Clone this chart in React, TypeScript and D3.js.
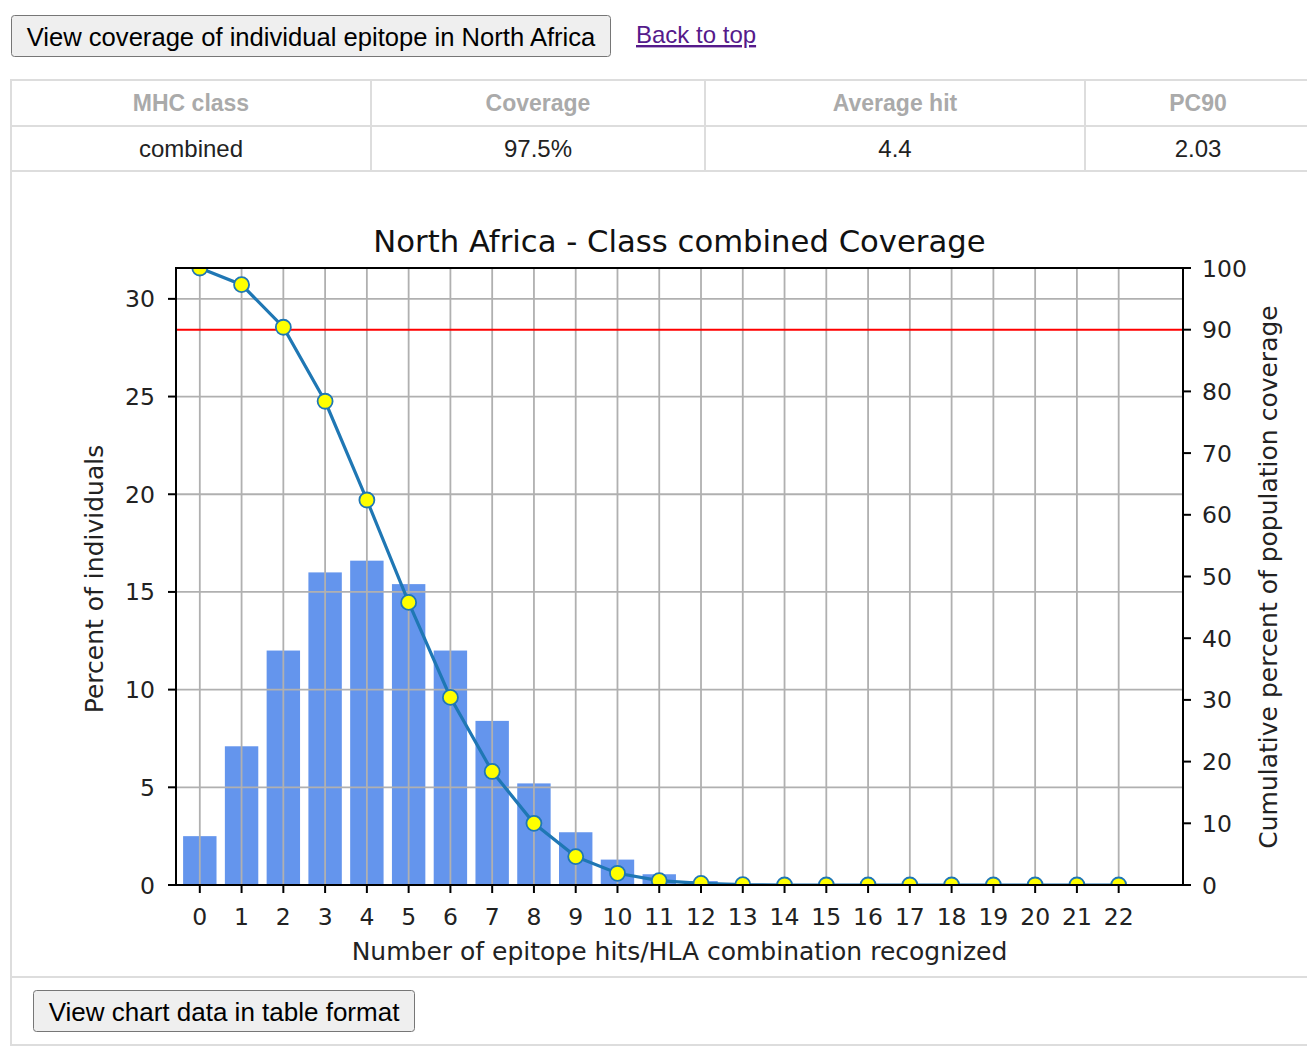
import React from "react";
import * as d3 from "d3";

const hits = d3.range(0, 23);
const xTickLabels = hits.map((d) => String(d));
const percentIndividuals = [2.5, 7.1, 12.0, 16.0, 16.6, 15.4, 12.0, 8.4, 5.2, 2.7, 1.3, 0.55, 0.2, 0.05, 0, 0, 0, 0, 0, 0, 0, 0, 0];
const cumulativeCoverage = [100, 97.3, 90.4, 78.4, 62.4, 45.8, 30.4, 18.4, 10.0, 4.6, 1.9, 0.7, 0.25, 0.05, 0, 0, 0, 0, 0, 0, 0, 0, 0];
const leftTicks = [0, 5, 10, 15, 20, 25, 30];
const rightTicks = [0, 10, 20, 30, 40, 50, 60, 70, 80, 90, 100];
const pc90Line = 90;

const tableHeaders = ["MHC class", "Coverage", "Average hit", "PC90"];
const tableValues = ["combined", "97.5%", "4.4", "2.03"];

const W = 1307;
const H = 1051;
const plot = { left: 176, right: 1183, top: 268, bottom: 885 };
const colEdges = [11, 371, 705, 1085, 1311];

const chartFont = "DejaVu Sans, sans-serif";
const htmlFont = "Liberation Sans, Arial, sans-serif";

export default function App() {
  const x = d3.scaleLinear().domain([-0.57, 23.54]).range([plot.left, plot.right]);
  const yL = d3.scaleLinear().domain([0, 31.58]).range([plot.bottom, plot.top]);
  const yR = d3.scaleLinear().domain([0, 100]).range([plot.bottom, plot.top]);
  const barW = x(0.8) - x(0);
  const line = d3
    .line<number>()
    .x((_, i) => x(hits[i]))
    .y((d) => yR(d));

  const tableBorder = "#dddddd";

  return (
    <div style={{ position: "absolute", left: 0, top: 0 }}>
      <svg width={W} height={H} style={{ display: "block" }}>
        <rect x={0} y={0} width={W} height={H} fill="#ffffff" />
        {/* top button */}
        <rect x={11.5} y={15.5} width={599} height={41} rx={3} fill="#efefef" stroke="#767676" strokeWidth={1} />
        <text x={311} y={46} textAnchor="middle" fontFamily={htmlFont} fontSize={25.6} fill="#000">
          View coverage of individual epitope in North Africa
        </text>
        <text x={636} y={43} fontFamily={htmlFont} fontSize={24} fill="#551A8B" textDecoration="underline">
          Back to top
        </text>

        {/* table */}
        <g stroke={tableBorder} strokeWidth={2} fill="none">
          <line x1={colEdges[0]} x2={W} y1={80} y2={80} />
          <line x1={colEdges[0]} x2={W} y1={126} y2={126} />
          <line x1={colEdges[0]} x2={W} y1={171} y2={171} />
          <line x1={colEdges[0]} x2={W} y1={977} y2={977} />
          <line x1={colEdges[0]} x2={W} y1={1045} y2={1045} />
          <line x1={colEdges[0]} x2={colEdges[0]} y1={79} y2={1046} />
          {colEdges.slice(1, 4).map((cx) => (
            <line key={cx} x1={cx} x2={cx} y1={80} y2={171} />
          ))}
        </g>
        {tableHeaders.map((t, i) => (
          <text key={t} x={(colEdges[i] + colEdges[i + 1]) / 2} y={111} textAnchor="middle" fontFamily={htmlFont} fontWeight="bold" fontSize={23} fill="#aaaaaa">
            {t}
          </text>
        ))}
        {tableValues.map((t, i) => (
          <text key={t} x={(colEdges[i] + colEdges[i + 1]) / 2} y={157} textAnchor="middle" fontFamily={htmlFont} fontSize={24} fill="#222">
            {t}
          </text>
        ))}

        {/* bottom button */}
        <rect x={33.5} y={990.5} width={381} height={41} rx={3} fill="#efefef" stroke="#767676" strokeWidth={1} />
        <text x={224} y={1021} textAnchor="middle" fontFamily={htmlFont} fontSize={26} fill="#000">
          View chart data in table format
        </text>

        {/* chart */}
        <defs>
          <clipPath id="plotClip">
            <rect x={plot.left} y={plot.top} width={plot.right - plot.left} height={plot.bottom - plot.top} />
          </clipPath>
        </defs>

        <text x={(plot.left + plot.right) / 2} y={252} textAnchor="middle" fontFamily={chartFont} fontSize={30.7} fill="#111">
          North Africa - Class combined Coverage
        </text>

        <g clipPath="url(#plotClip)">
          {percentIndividuals.map((v, i) => (
            <rect key={i} x={x(hits[i]) - barW / 2} y={yL(v)} width={barW} height={plot.bottom - yL(v)} fill="#6495ED" />
          ))}
          {hits.map((h) => (
            <line key={"vg" + h} x1={x(h)} x2={x(h)} y1={plot.top} y2={plot.bottom} stroke="#b0b0b0" strokeWidth={1.8} />
          ))}
          {leftTicks.map((t) => (
            <line key={"hg" + t} x1={plot.left} x2={plot.right} y1={yL(t)} y2={yL(t)} stroke="#b0b0b0" strokeWidth={1.8} />
          ))}
          <line x1={plot.left} x2={plot.right} y1={yR(pc90Line)} y2={yR(pc90Line)} stroke="#ff0000" strokeWidth={2} />
          <path d={line(cumulativeCoverage) || ""} fill="none" stroke="#1f77b4" strokeWidth={3.2} />
          {cumulativeCoverage.map((v, i) => (
            <circle key={"m" + i} cx={x(hits[i])} cy={yR(v)} r={7.5} fill="#ffff00" stroke="#1f77b4" strokeWidth={1.8} />
          ))}
        </g>

        {/* spines */}
        <rect x={plot.left} y={plot.top} width={plot.right - plot.left} height={plot.bottom - plot.top} fill="none" stroke="#000" strokeWidth={2} />

        {/* x axis */}
        {hits.map((h, i) => (
          <g key={"xt" + h}>
            <line x1={x(h)} x2={x(h)} y1={plot.bottom} y2={plot.bottom + 8} stroke="#000" strokeWidth={2} />
            <text x={x(h)} y={925} textAnchor="middle" fontFamily={chartFont} fontSize={23.5} fill="#222">
              {xTickLabels[i]}
            </text>
          </g>
        ))}
        <text x={(plot.left + plot.right) / 2} y={960} textAnchor="middle" fontFamily={chartFont} fontSize={25} fill="#222">
          Number of epitope hits/HLA combination recognized
        </text>

        {/* left axis */}
        {leftTicks.map((t) => (
          <g key={"lt" + t}>
            <line x1={plot.left - 8} x2={plot.left} y1={yL(t)} y2={yL(t)} stroke="#000" strokeWidth={2} />
            <text x={plot.left - 21} y={yL(t) + 8.5} textAnchor="end" fontFamily={chartFont} fontSize={23.5} fill="#222">
              {t}
            </text>
          </g>
        ))}
        <text transform={`translate(103, 579) rotate(-90)`} textAnchor="middle" fontFamily={chartFont} fontSize={25} fill="#222">
          Percent of individuals
        </text>

        {/* right axis */}
        {rightTicks.map((t) => (
          <g key={"rt" + t}>
            <line x1={plot.right} x2={plot.right + 8} y1={yR(t)} y2={yR(t)} stroke="#000" strokeWidth={2} />
            <text x={plot.right + 19} y={yR(t) + 8.5} textAnchor="start" fontFamily={chartFont} fontSize={23.5} fill="#222">
              {t}
            </text>
          </g>
        ))}
        <text transform={`translate(1277, 577) rotate(-90)`} textAnchor="middle" fontFamily={chartFont} fontSize={25} fill="#222">
          Cumulative percent of population coverage
        </text>
      </svg>
    </div>
  );
}
